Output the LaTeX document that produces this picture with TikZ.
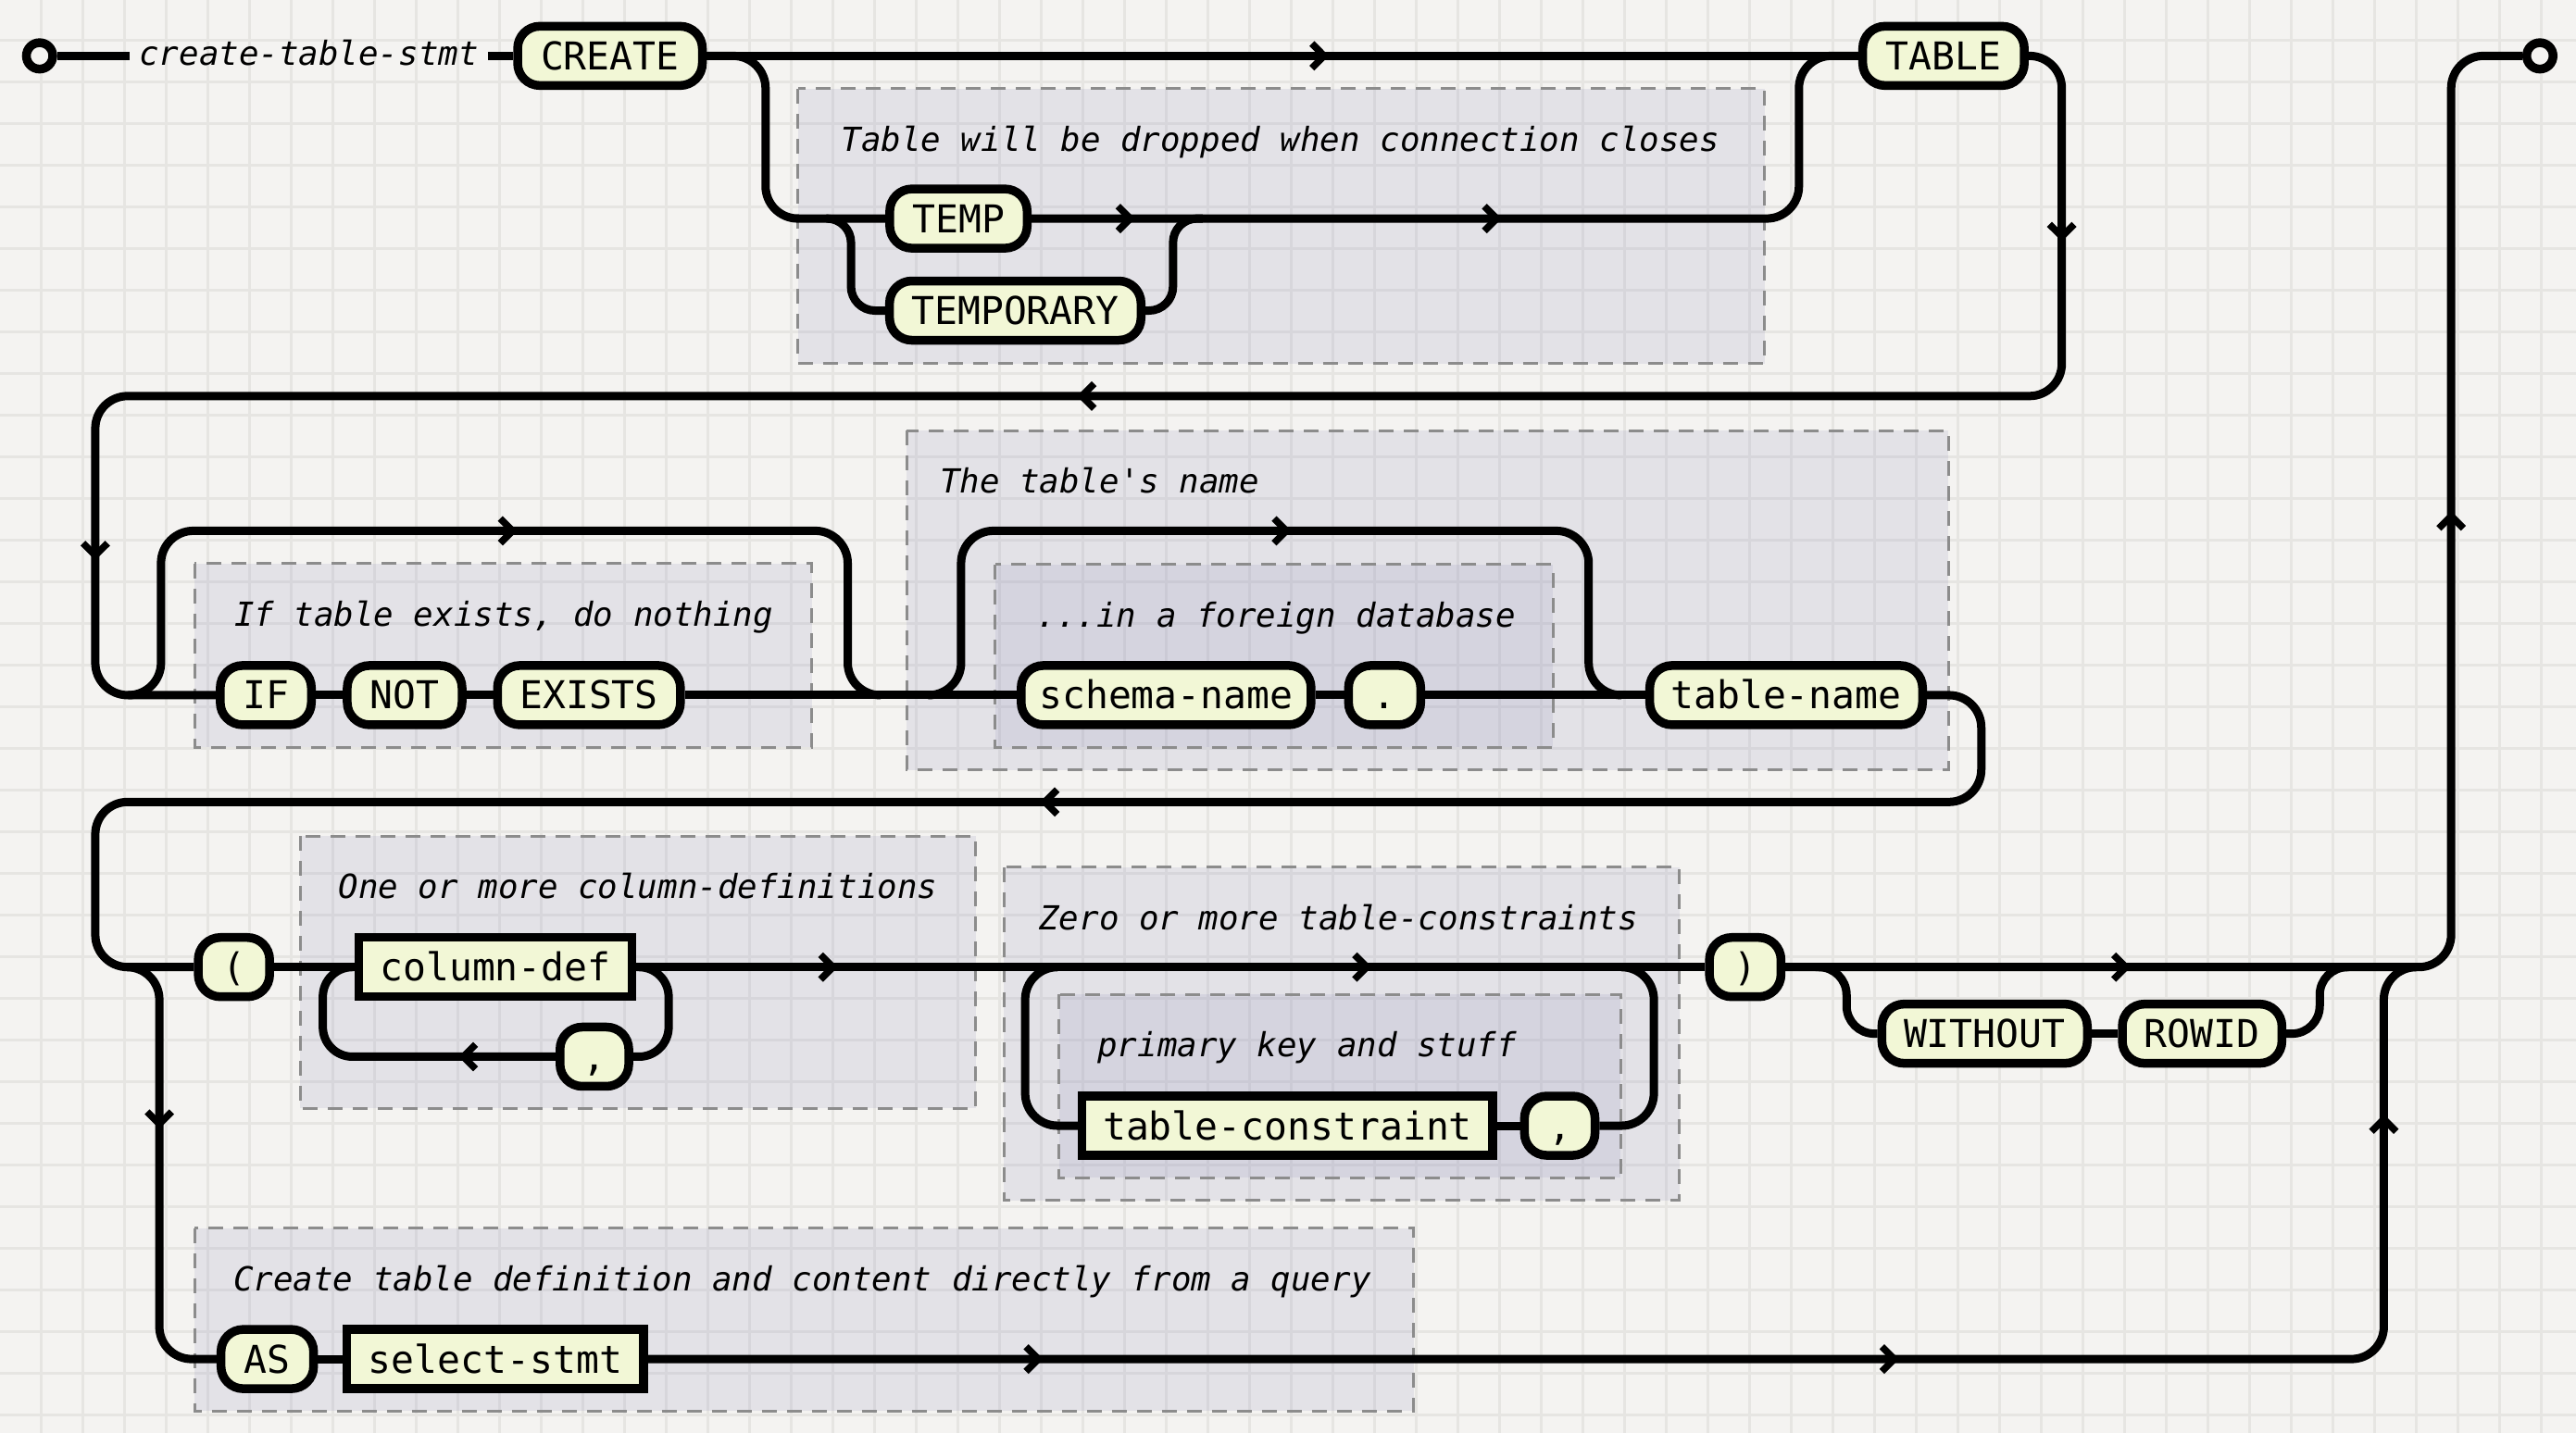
\documentclass[tikz,border=0pt]{standalone}
\usepackage{fontspec}
\newfontfamily\kwfont{DejaVu Sans Mono}[Ligatures=TeXOff]
\newfontfamily\cmfont{DejaVu Sans Mono Oblique}[Ligatures=TeXOff]
\definecolor{bg}{HTML}{F4F3F1}
\definecolor{gridc}{HTML}{E6E5E2}
\definecolor{nodefill}{HTML}{F2F7D6}
\definecolor{boxfill}{RGB}{136,135,180}
\definecolor{boxline}{HTML}{8C8C8C}
\tikzset{
  rr/.style={line width=9pt, rounded corners=35pt},
  term/.style={draw=black, fill=nodefill, line width=9.5pt, rounded corners=24pt,
    minimum height=64pt, inner sep=0pt,
    font=\kwfont\fontsize{41.4}{48}\selectfont, text height=30pt, text depth=0pt},
  nterm/.style={term, sharp corners},
  note/.style={anchor=base west, inner sep=0pt, font=\cmfont\fontsize{35.8}{42}\selectfont},
  grp/.style={fill=boxfill, fill opacity=0.15, draw=boxline, line width=3pt,
    dash pattern=on 16pt off 11pt},
  endpt/.style={circle, draw=black, fill=bg, line width=9.5pt, minimum size=28.5pt, inner sep=0pt},
  chev/.pic={\draw[line width=7.5pt, line cap=butt, line join=miter, sharp corners]
    (-7.5,-7.5) -- (0,0) -- (-7.5,7.5);},
}
\begin{document}
\begin{tikzpicture}[x=1.77423pt, y=-1.77523pt]
\useasboundingbox (0,0) rectangle (1568,872);
\fill[bg] (0,0) rectangle (1568,872);
% grid
\foreach \k in {0,...,61} \draw[gridc, line width=2.7pt] (44.3pt+\k*45pt,0pt) -- (44.3pt+\k*45pt,-1548pt);
\foreach \k in {0,...,34} \draw[gridc, line width=2.7pt] (0pt,-43.3pt-\k*45pt) -- (2782pt,-43.3pt-\k*45pt);

% groups
\draw[grp] (485.7,54) rectangle (1074,221.3);
\draw[grp] (118.6,342.9) rectangle (494.2,454.7);
\draw[grp] (551.8,262) rectangle (1186,468.4);
\draw[grp] (605.8,343.5) rectangle (945.3,454.7);
\draw[grp] (182.7,508.7) rectangle (593.9,674.3);
\draw[grp] (611.2,527.6) rectangle (1022.2,730.5);
\draw[grp] (644.6,605) rectangle (986.6,716.8);
\draw[grp] (118.6,747.3) rectangle (860.4,858.6);

\node[note] (c1) at (512,92) {Table will be dropped when connection closes};
\node[note] (c2) at (142.5,381) {If table exists, do nothing};
\node[note] (c3) at (572,300) {The table's name};
\node[note] (c4) at (631,381.5) {...in a foreign database};
\node[note] (c5) at (206,546.7) {One or more column-definitions};
\node[note] (c6) at (632.5,565.6) {Zero or more table-constraints};
\node[note] (c7) at (668,643) {primary key and stuff};
\node[note] (c8) at (142,785.3) {Create table definition and content directly from a query};

% nodes
\node[endpt] (start) at (24.1,34) {};
\node[inner xsep=10pt, inner ysep=0pt, text height=20pt, text depth=0pt,
  font=\cmfont\fontsize{35.8}{42}\selectfont] (title) at (188,34) {create-table-stmt};
\node[term, minimum width=199.5pt] (create) at (371.3,34) {CREATE};
\node[term, minimum width=174.5pt] (table) at (1183,34) {TABLE};
\node[term, minimum width=148.4pt] (temp) at (583.4,133) {TEMP};
\node[term, minimum width=271.6pt] (temporary) at (618,189) {TEMPORARY};
\node[term, minimum width=98.4pt] (if) at (161.8,423) {IF};
\node[term, minimum width=124pt] (not) at (246.3,423) {NOT};
\node[term, minimum width=197.6pt] (exists) at (358.5,423) {EXISTS};
\node[term, minimum width=313.1pt] (schema) at (709.8,423) {schema-name};
\node[term, minimum width=78pt] (dot) at (842.8,423) {.};
\node[term, minimum width=294.6pt] (tname) at (1087.2,423) {table-name};
\node[term, minimum width=77.1pt] (lpar) at (142.4,588.5) {(};
\node[nterm, minimum width=295.2pt] (coldef) at (301.5,588.5) {column-def};
\node[term, minimum width=74.3pt] (comma1) at (361.8,643) {,};
\node[nterm, minimum width=443.5pt] (tcon) at (783.7,685) {table-constraint};
\node[term, minimum width=76.2pt] (comma2) at (949.4,685) {,};
\node[term, minimum width=77.3pt] (rpar) at (1062.3,588.5) {)};
\node[term, minimum width=221.9pt] (without) at (1208,629) {WITHOUT};
\node[term, minimum width=172.4pt] (rowid) at (1340.4,629) {ROWID};
\node[term, minimum width=100pt] (as) at (162.7,827) {AS};
\node[nterm, minimum width=320.4pt] (select) at (301.5,827) {select-stmt};
\node[endpt] (stop) at (1546,34) {};

% connectors
\draw[rr] (start) -- (title);
\draw[rr] (title) -- (create);
\draw[rr] (create) -- (table);
\draw[rr] (create.east) -- (466,34) -- (466,133) -- (temp.west);
\draw[rr] (temp.east) -- (1095,133) -- (1095,34) -- (table.west);
\draw[rr, rounded corners=26pt] (503,133) -- (518,133) -- (518,189) -- (temporary.west);
\draw[rr, rounded corners=26pt] (temporary.east) -- (714,189) -- (714,133) -- (732,133);
\draw[rr] (table.east) -- (1255,34) -- (1255,241) -- (58,241) -- (58,423) -- (if.west);
\draw[rr] (78,423) -- (98,423) -- (98,323) -- (516,323) -- (516,423) -- (536,423);
\draw[rr] (if) -- (not);
\draw[rr] (not) -- (exists);
\draw[rr] (exists) -- (schema);
\draw[rr] (schema) -- (dot);
\draw[rr] (dot) -- (tname);
\draw[rr] (565,423) -- (585,423) -- (585,323) -- (967,323) -- (967,423) -- (987,423);
\draw[rr] (tname.east) -- (1206,423) -- (1206,488) -- (58,488) -- (58,588.5) -- (lpar.west);
\draw[rr] (78,588.5) -- (97,588.5) -- (97,827) -- (as.west);
\draw[rr] (lpar) -- (coldef);
\draw[rr] (coldef) -- (rpar);
\draw[rr, rounded corners=32pt] (coldef.east) -- (407,588.5) -- (407,643) -- (comma1.east);
\draw[rr, rounded corners=32pt] (comma1.west) -- (196.5,643) -- (196.5,588.5) -- (coldef.west);
\draw[rr] (644,588.5) -- (624,588.5) -- (624,685) -- (tcon.west);
\draw[rr] (tcon) -- (comma2);
\draw[rr] (comma2.east) -- (1006.7,685) -- (1006.7,588.5) -- (986.7,588.5);
\draw[rr] (rpar.east) -- (1492,588.5) -- (1492,34) -- (stop);
\draw[rr, rounded corners=30pt] (1105,588.5) -- (1124,588.5) -- (1124,629) -- (without.west);
\draw[rr] (without) -- (rowid);
\draw[rr, rounded corners=30pt] (rowid.east) -- (1412,629) -- (1412,588.5) -- (1430,588.5);
\draw[rr] (as) -- (select);
\draw[rr] (select.east) -- (1451,827) -- (1451,588.5) -- (1471,588.5);

% direction marks
\pic at (806,34) {chev};
\pic at (688,133) {chev};
\pic at (911,133) {chev};
\pic[rotate=-90] at (1255,144) {chev};
\pic[rotate=180] at (658.5,241) {chev};
\pic[rotate=-90] at (58,338) {chev};
\pic at (312,323) {chev};
\pic at (783,323) {chev};
\pic[rotate=180] at (636,488) {chev};
\pic[rotate=180] at (282,643) {chev};
\pic at (507,588.5) {chev};
\pic at (832,588.5) {chev};
\pic at (1294,588.5) {chev};
\pic[rotate=-90] at (97,684) {chev};
\pic at (632,827) {chev};
\pic at (1153,827) {chev};
\pic[rotate=90] at (1451,681) {chev};
\pic[rotate=90] at (1492,314) {chev};
\end{tikzpicture}
\end{document}
